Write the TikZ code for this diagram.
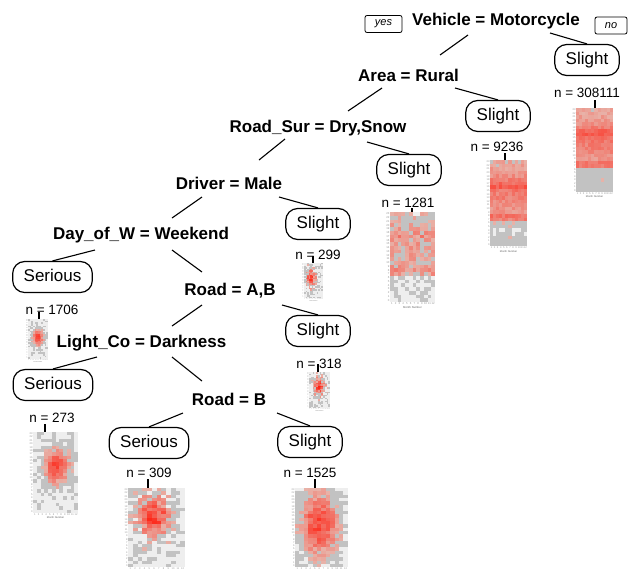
\documentclass[tikz,border=0pt]{standalone}
\usepackage{fontspec}
\setmainfont{Liberation Sans}
\usetikzlibrary{shapes.misc}
\definecolor{hmbg}{RGB}{238,238,238}
\definecolor{hmgray}{RGB}{194,194,194}
\definecolor{hmpink}{RGB}{232,178,168}
\definecolor{hmred}{RGB}{255,30,15}
\definecolor{axgray}{RGB}{150,150,150}
\tikzset{
 split/.style={font=\fontsize{17}{20}\selectfont\bfseries, inner sep=0pt, anchor=base},
 leaf/.style={draw, line width=1.2pt, rounded corners=12pt, font=\fontsize{17}{20}\selectfont, minimum height=31pt, inner xsep=11pt, text height=12.5pt, text depth=3.5pt},
 nlab/.style={font=\fontsize{13.5}{16}\selectfont, inner sep=0pt, anchor=base},
 yn/.style={draw, line width=0.8pt, rounded corners=2pt, font=\fontsize{11}{13}\selectfont\itshape, inner sep=0pt, minimum height=17pt},
 conn/.style={line width=1.1pt},
 ntick/.style={line width=1.1pt},
 axlab/.style={text=axgray, inner sep=0pt},
}
% band-type heat map: x0,y0,cw,ch,noise,profile
\newcommand\hband[6]{%
 \foreach \i in {0,...,11}{\foreach \j in {0,...,23}{%
  \pgfmathsetmacro\v{{#6}[\j]+#5*(rnd-0.5)}%
  \pgfmathtruncatemacro\p{100*\v}%
  \ifnum\p<-5 \def\cc{hmbg}\else\ifnum\p<22 \def\cc{hmgray}\else
   \pgfmathtruncatemacro\q{min(100,(\p-22)*100/95)}\edef\cc{hmred!\q!hmpink}\fi\fi
  \fill[\cc] (#1+\i*#3,#2+\j*#4) rectangle ++(#3+0.05,#4+0.05);
 }}}
% blob-type heat map: x0,y0,cw,ch,cx,cy,sx,sy,noise
\newcommand\hblob[9]{%
 \foreach \i in {0,...,11}{\foreach \j in {0,...,23}{%
  \pgfmathsetmacro\v{exp(max(-9,-((\i-#5)*(\i-#5)/(#7*#7)+(\j-#6)*(\j-#6)/(#8*#8))))+#9*(rnd-0.5)}%
  \pgfmathtruncatemacro\p{100*\v}%
  \ifnum\p<10 \def\cc{hmbg}\else\ifnum\p<33 \def\cc{hmgray}\else
   \pgfmathtruncatemacro\q{min(100,(\p-33)*100/90)}\edef\cc{hmred!\q!hmpink}\fi\fi
  \fill[\cc] (#1+\i*#3,#2+\j*#4) rectangle ++(#3+0.05,#4+0.05);
 }}}
% axes labels: x0,y0,cw,ch,fontsize,id,showMN
\newcommand\haxes[7]{%
 \foreach \j in {0,...,23}{\pgfmathtruncatemacro\hh{23-\j}%
  \node[axlab, font=\fontsize{#5}{#5}\selectfont, anchor=east] (#6y\j) at (#1-0.3,#2+\j*#4+0.5*#4) {\hh};}
 \foreach \i in {1,...,12}{%
  \node[axlab, font=\fontsize{#5}{#5}\selectfont, anchor=north] (#6x\i) at (#1+\i*#3-0.5*#3,#2+24*#4+0.4) {\i};}
 \ifnum#7=1 \node[axlab, text=black!60, font=\fontsize{#5}{#5}\selectfont, anchor=north] (#6mn) at (#1+6*#3,#2+24*#4+#5+1.2) {Month Number};\fi
}
\begin{document}
\begin{tikzpicture}[x=1pt,y=-1pt]
\useasboundingbox (0,0) rectangle (637,574);
\fill[white] (0,0) rectangle (637,574);
% split labels
\node[split] (v) at (496,25) {Vehicle = Motorcycle};
\node[yn, minimum width=37pt] (yes) at (383.5,24) {yes};
\node[yn, minimum width=32pt] (no) at (611,25.5) {no};
\node[split] (a) at (408.5,81) {Area = Rural};
\node[split] (rs) at (318,132) {Road\_Sur = Dry,Snow};
\node[split] (d) at (229,189) {Driver = Male};
\node[split] (dw) at (141,239) {Day\_of\_W = Weekend};
\node[split] (rab) at (230,295) {Road = A,B};
\node[split] (lc) at (141.5,347) {Light\_Co = Darkness};
\node[split] (rb) at (229,405) {Road = B};
% leaves
\node[leaf] (l1) at (587,60) {Slight};
\node[leaf] (l2) at (498,116) {Slight};
\node[leaf] (l3) at (409,170) {Slight};
\node[leaf] (l4) at (318,224) {Slight};
\node[leaf] (l5) at (52.5,277) {Serious};
\node[leaf] (l6) at (318,331) {Slight};
\node[leaf] (l7) at (53,385) {Serious};
\node[leaf] (l8) at (149,443) {Serious};
\node[leaf] (l9) at (310,442) {Slight};
% n labels
\node[nlab] (n1) at (587,97) {n = 308111};
\node[nlab] (n2) at (497,151) {n = 9236};
\node[nlab] (n3) at (408,207) {n = 1281};
\node[nlab] (n4) at (318,259) {n = 299};
\node[nlab] (n5) at (52,314) {n = 1706};
\node[nlab] (n6) at (319,368) {n = 318};
\node[nlab] (n7) at (52,422) {n = 273};
\node[nlab] (n8) at (149,477) {n = 309};
\node[nlab] (n9) at (310,477) {n = 1525};
% connector end points
\coordinate (c1s) at (468,35); \coordinate (c1e) at (440,55);
\coordinate (c2s) at (550,33);
\coordinate (c3s) at (382,88); \coordinate (c3e) at (348,111);
\coordinate (c4s) at (455,88);
\coordinate (c5s) at (285,139); \coordinate (c5e) at (259,160);
\coordinate (c6s) at (367,142);
\coordinate (c7s) at (202,197); \coordinate (c7e) at (172,218);
\coordinate (c8s) at (279,197);
\coordinate (c9s) at (95,250);
\coordinate (c10s) at (172,250); \coordinate (c10e) at (202,272);
\coordinate (c11s) at (202,305); \coordinate (c11e) at (172,326);
\coordinate (c12s) at (282,305);
\coordinate (c13s) at (97,357);
\coordinate (c14s) at (172,357); \coordinate (c14e) at (202,381);
\coordinate (c15s) at (183,413);
\coordinate (c16s) at (277,413);
\draw[conn] (c1s) -- (c1e);
\draw[conn] (c2s) -- (l1.north);
\draw[conn] (c3s) -- (c3e);
\draw[conn] (c4s) -- (l2.north);
\draw[conn] (c5s) -- (c5e);
\draw[conn] (c6s) -- (l3.north);
\draw[conn] (c7s) -- (c7e);
\draw[conn] (c8s) -- (l4.north);
\draw[conn] (c9s) -- (l5.north);
\draw[conn] (c10s) -- (c10e);
\draw[conn] (c11s) -- (c11e);
\draw[conn] (c12s) -- (l6.north);
\draw[conn] (c13s) -- (l7.north);
\draw[conn] (c14s) -- (c14e);
\draw[conn] (c15s) -- (l8.north);
\draw[conn] (c16s) -- (l9.north);
% heat maps
\pgfmathsetseed{11}
\hband{576}{108}{3.08}{3.5}{0.22}{0.3,0.32,0.35,0.4,0.45,0.55,0.75,0.8,0.65,0.6,0.55,0.55,0.5,0.45,0.42,0.65,0.6,0.12,0.12,0.12,0.12,0.12,0.12,0.12}
\haxes{576}{108}{3.08}{3.5}{2.6}{ha}{1}
\pgfmathsetseed{23}
\hband{490}{160}{3.08}{3.6}{0.25}{0.3,0.32,0.35,0.4,0.45,0.55,0.7,0.78,0.6,0.55,0.55,0.5,0.5,0.45,0.42,0.62,0.55,0.12,0.12,-0.02,0.02,0.12,0.08,0.08}
\haxes{490}{160}{3.08}{3.6}{2.6}{hb}{1}
\pgfmathsetseed{37}
\hband{390}{212}{3.75}{3.75}{0.45}{0.12,0.14,0.18,0.26,0.3,0.36,0.45,0.42,0.33,0.3,0.3,0.28,0.28,0.3,0.36,0.48,0.32,0.0,-0.05,-0.1,-0.1,-0.12,-0.12,-0.12}
\haxes{390}{212}{3.75}{3.75}{2.8}{hc}{1}
\pgfmathsetseed{41}
\hblob{304}{263}{1.58}{1.46}{4}{10}{3}{6}{0.6}
\haxes{304}{263}{1.58}{1.46}{1.2}{hd}{1}
\pgfmathsetseed{53}
\hblob{28}{319}{1.67}{1.67}{5.5}{10.5}{3.4}{5}{0.3}
\haxes{28}{319}{1.67}{1.67}{1.3}{he}{1}
\pgfmathsetseed{67}
\hblob{309}{372}{1.75}{1.5}{5.3}{9}{3}{6}{0.6}
\haxes{309}{372}{1.75}{1.5}{1.2}{hf}{1}
\pgfmathsetseed{71}
\hblob{33}{432}{3.75}{3.375}{5.8}{9.5}{3.4}{5.5}{0.35}
\haxes{33}{432}{3.75}{3.375}{2.6}{hg}{1}
\pgfmathsetseed{83}
\hblob{128}{488}{4.75}{3.3}{5}{8}{3.4}{6.5}{0.6}
\haxes{128}{488}{4.75}{3.3}{2.5}{hh}{0}
\pgfmathsetseed{97}
\hblob{295}{488}{4.4}{3.3}{5}{10.5}{4.5}{9.5}{0.35}
\haxes{295}{488}{4.4}{3.3}{2.5}{hi}{0}
% ticks from n labels to maps
\coordinate (t1s) at (595,100); \coordinate (t1e) at (595,108);
\coordinate (t2s) at (505,153); \coordinate (t2e) at (505,160);
\coordinate (t3s) at (412,208); \coordinate (t3e) at (412,212);
\coordinate (t4s) at (313,256); \coordinate (t4e) at (313,263);
\coordinate (t5s) at (39,312); \coordinate (t5e) at (39,319);
\coordinate (t6s) at (318,364); \coordinate (t6e) at (318,372);
\coordinate (t7s) at (45,424); \coordinate (t7e) at (45,432);
\coordinate (t8s) at (148,479); \coordinate (t8e) at (148,488);
\coordinate (t9s) at (315,479); \coordinate (t9e) at (315,488);
\foreach \k in {1,...,9}{\draw[ntick] (t\k s) -- (t\k e);}
\end{tikzpicture}
\end{document}
